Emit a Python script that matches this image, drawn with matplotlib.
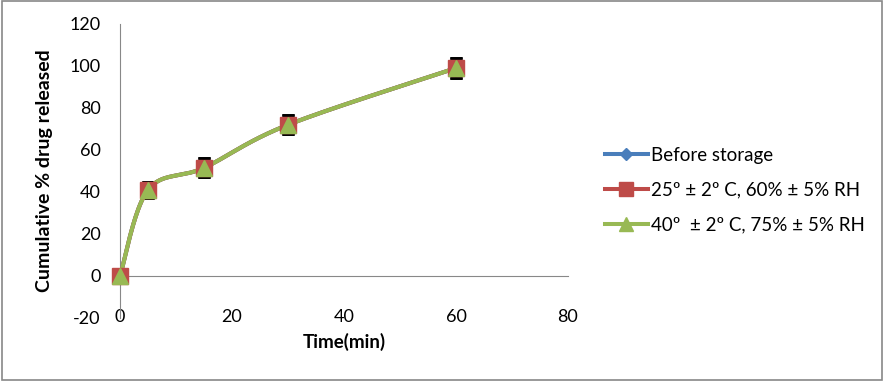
import numpy as np
import matplotlib
matplotlib.use("Agg")
import matplotlib.pyplot as plt
from matplotlib.patches import Rectangle

# data
time_min = [0, 5, 15, 30, 60]
before_storage = [0, 41, 51.5, 72, 99]
cond_25 = [0, 41, 51.5, 72, 99]
cond_40 = [0, 41, 51.5, 72, 99]
err = [3.5, 4, 4.5, 4.5, 4.8]

labels = ["Before storage",
          "25º ± 2º C, 60% ± 5% RH",
          "40º  ± 2º C, 75% ± 5% RH"]
colors = ["#4A7EBB", "#BE4B48", "#98B954"]
markers = ["D", "s", "^"]
msizes = [7, 11, 11]

plt.rcParams["font.family"] = ["Lato", "DejaVu Sans"]
plt.rcParams["axes.unicode_minus"] = False


def smooth(x, y, n=40):
    """Excel-style smoothed line (Bezier with Catmull-Rom tangents)."""
    x = np.asarray(x, float)
    y = np.asarray(y, float)
    px = np.concatenate([[x[0]], x, [x[-1]]])
    py = np.concatenate([[y[0]], y, [y[-1]]])
    xs, ys = [], []
    t = np.linspace(0, 1, n)
    for i in range(1, len(px) - 2):
        p0 = np.array([px[i], py[i]])
        p3 = np.array([px[i + 1], py[i + 1]])
        c1 = p0 + (np.array([px[i + 1], py[i + 1]]) - np.array([px[i - 1], py[i - 1]])) / 6
        c2 = p3 - (np.array([px[i + 2], py[i + 2]]) - np.array([px[i], py[i]])) / 6
        b = ((1 - t) ** 3)[:, None] * p0 + (3 * (1 - t) ** 2 * t)[:, None] * c1 \
            + (3 * (1 - t) * t ** 2)[:, None] * c2 + (t ** 3)[:, None] * p3
        xs.append(b[:, 0])
        ys.append(b[:, 1])
    return np.concatenate(xs), np.concatenate(ys)


fig = plt.figure(figsize=(8.84, 3.81), dpi=100)
fig.patches.append(Rectangle((0.002, 0.003), 0.996, 0.994, transform=fig.transFigure,
                             fill=False, edgecolor="#888888", linewidth=1.2))

ax = fig.add_axes([120 / 884, 1 - 318 / 381, 448 / 884, 294 / 381])

series = [before_storage, cond_25, cond_40]
for vals, lab, col, mk, ms in zip(series, labels, colors, markers, msizes):
    sx, sy = smooth(time_min, vals)
    ax.plot(sx, sy, color=col, linewidth=2.9, zorder=3, clip_on=False)
    ax.errorbar(time_min, vals, yerr=err, fmt="none", ecolor="black",
                elinewidth=1.3, capsize=4, capthick=1.8, zorder=2, clip_on=False)
    ax.plot(time_min, vals, linestyle="none", marker=mk, markersize=ms,
            color=col, markeredgecolor=col, zorder=4, clip_on=False)
    ax.plot([], [], color=col, linewidth=2.9, marker=mk, markersize=ms * 0.9,
            label=lab)

ax.set_xlim(0, 80)
ax.set_ylim(-20, 120)
ax.set_xticks([0, 20, 40, 60, 80])
ax.set_yticks(range(-20, 121, 20))
ax.spines["top"].set_visible(False)
ax.spines["right"].set_visible(False)
ax.spines["bottom"].set_position(("data", 0))
ax.spines["bottom"].set_color("#888888")
ax.spines["left"].set_color("#888888")
ax.tick_params(axis="both", length=0, labelsize=13)
ax.tick_params(axis="x", pad=24)
ax.tick_params(axis="y", pad=14)

ax.set_xlabel("Time(min)", fontsize=13.5, fontweight="bold")
ax.xaxis.set_label_coords(0.5, -0.05)
ax.set_ylabel("Cumulative % drug released", fontsize=14, fontweight="bold")
ax.yaxis.set_label_coords(-0.15, 0.5)

fig.legend(loc="center left", bbox_to_anchor=(588 / 884, 1 - 190 / 381),
           frameon=False, fontsize=13.5, handlelength=2.3, handletextpad=0.15,
           labelspacing=0.95)

fig.savefig("out.png", dpi=100)
